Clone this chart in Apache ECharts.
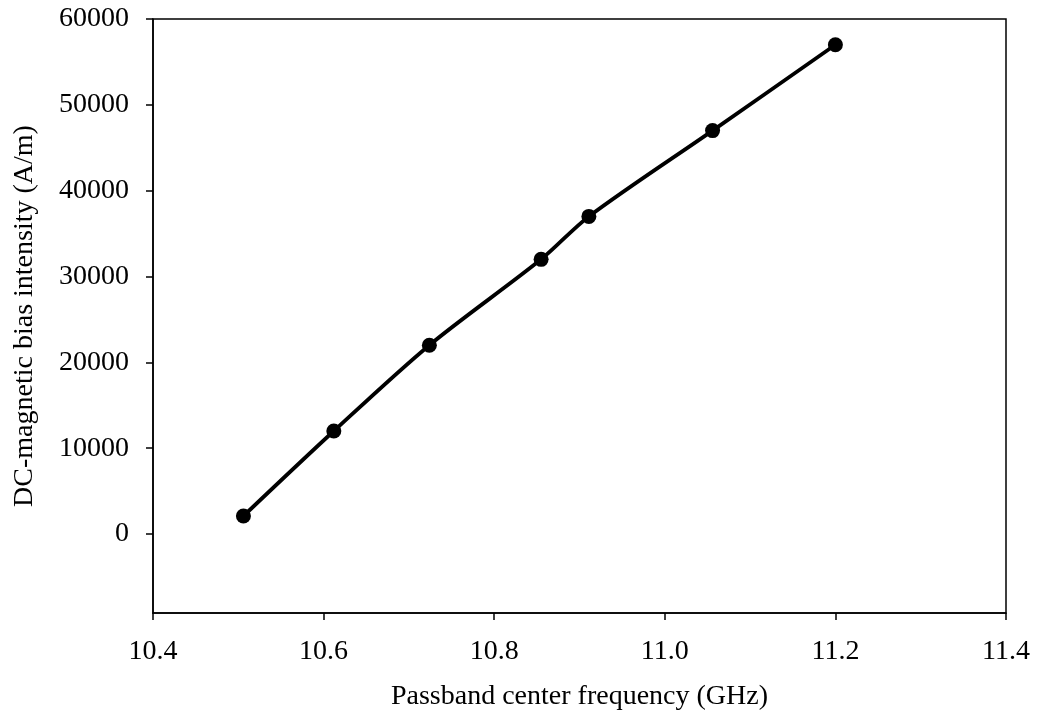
<!DOCTYPE html>
<html>
<head>
<meta charset="utf-8">
<script src="https://cdn.jsdelivr.net/npm/echarts@6/dist/echarts.min.js"></script>
<style>
  html, body { margin: 0; padding: 0; background: #fff; }
  #chart { width: 1037px; height: 723px; }
</style>
</head>
<body>
<div id="chart"></div>
<script>
// Passband center frequency (GHz) vs. DC bias field (A/m)
const frequencyGHz = [10.506, 10.612, 10.724, 10.855, 10.911, 11.056, 11.2];
const biasField = [2100, 12000, 22000, 32000, 37000, 47000, 57000];
const yTickValues = [0, 10000, 20000, 30000, 40000, 50000, 60000];
const xTitle = 'Passband center frequency (GHz)';
const yTitle = 'DC-magnetic bias intensity (A/m)';

const points = frequencyGHz.map((f, i) => [f, biasField[i]]);
const font = 'Liberation Serif, Times New Roman, serif';

const chart = echarts.init(document.getElementById('chart'));
chart.setOption({
  animation: false,
  backgroundColor: '#fff',
  grid: {
    left: 153, right: 31, top: 19, bottom: 110,
    show: true, borderColor: '#000', borderWidth: 1.5
  },
  xAxis: {
    type: 'value',
    min: 10.4, max: 11.4, interval: 0.2,
    name: xTitle,
    nameLocation: 'middle',
    nameGap: 70,
    nameTextStyle: { fontFamily: font, fontSize: 28, color: '#000' },
    axisLine: { show: true, onZero: false, lineStyle: { color: '#000', width: 1.5 } },
    axisTick: { show: true, inside: false, length: 7, lineStyle: { color: '#000', width: 1.5 } },
    axisLabel: {
      margin: 25, fontFamily: font, fontSize: 28, color: '#000',
      formatter: v => v.toFixed(1)
    },
    splitLine: { show: false }
  },
  yAxis: {
    type: 'value',
    min: -9200, max: 60000,
    name: yTitle,
    nameLocation: 'middle',
    nameGap: 114,
    nameRotate: 90,
    nameTextStyle: { fontFamily: font, fontSize: 28, color: '#000' },
    axisLine: { show: true, onZero: false, lineStyle: { color: '#000', width: 1.5 } },
    axisTick: { show: true, inside: false, length: 7, customValues: yTickValues, lineStyle: { color: '#000', width: 1.5 } },
    axisLabel: {
      margin: 24, fontFamily: font, fontSize: 28, color: '#000',
      customValues: yTickValues,
      formatter: v => String(Math.round(v))
    },
    splitLine: { show: false }
  },
  series: [{
    type: 'line',
    data: points,
    smooth: 0.3,
    symbol: 'circle',
    symbolSize: 15,
    itemStyle: { color: '#000' },
    lineStyle: { color: '#000', width: 3.8 }
  }]
});
</script>
</body>
</html>
